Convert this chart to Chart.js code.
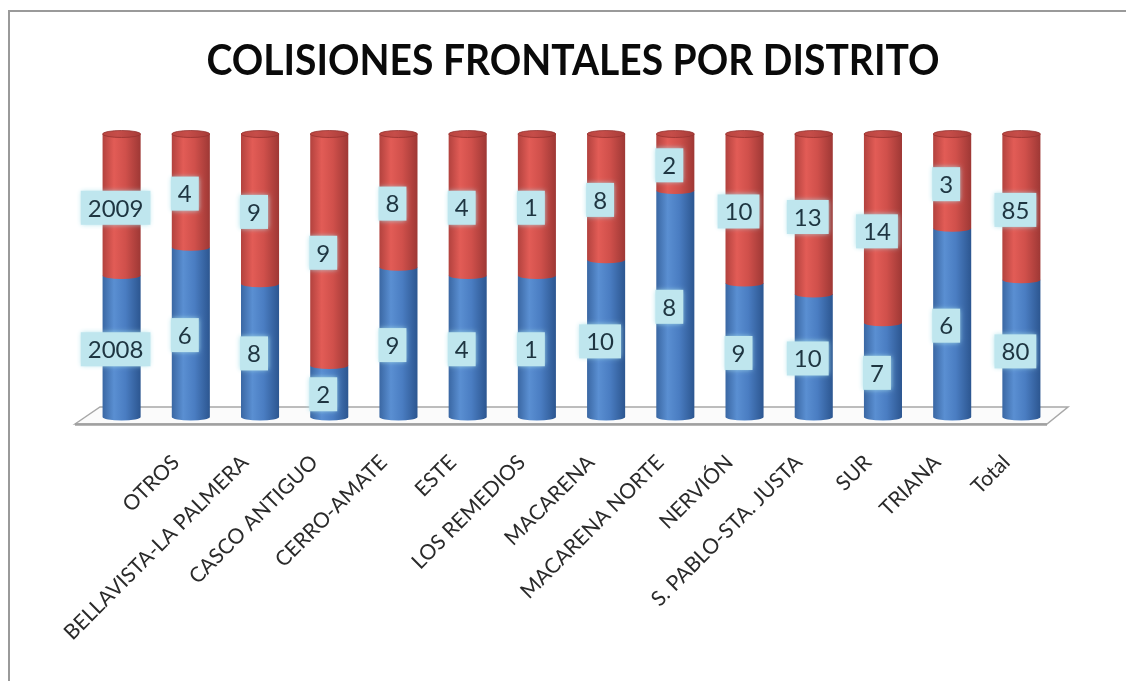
<!DOCTYPE html>
<html>
<head>
<meta charset="utf-8">
<script src="https://cdn.jsdelivr.net/npm/chart.js@4.4.0/dist/chart.umd.min.js"></script>
<style>
  html, body { margin: 0; padding: 0; background: #ffffff; overflow: hidden; }
  #wrap { width: 1126px; height: 681px; position: relative; }
</style>
</head>
<body>
<div id="wrap"><canvas id="c"></canvas></div>
<script>
// Districts (the first column holds the year header row of the source sheet)
const districts = ['', 'OTROS', 'BELLAVISTA-LA PALMERA', 'CASCO ANTIGUO', 'CERRO-AMATE', 'ESTE',
  'LOS REMEDIOS', 'MACARENA', 'MACARENA NORTE', 'NERVIÓN', 'S. PABLO-STA. JUSTA', 'SUR', 'TRIANA', 'Total'];
const values2008 = [2008, 6, 8, 2, 9, 4, 1, 10, 8, 9, 10, 7, 6, 80];
const values2009 = [2009, 4, 9, 9, 8, 4, 1, 8, 2, 10, 13, 14, 3, 85];
const seriesNames = ['2008', '2009'];
const chartTitle = 'COLISIONES FRONTALES POR DISTRITO';

// 100 % stacked shares for each column
const totals = values2008.map((v, i) => v + values2009[i]);
const share2008 = values2008.map((v, i) => v / totals[i] * 100);
const share2009 = values2009.map((v, i) => v / totals[i] * 100);
const rawValues = [values2008, values2009];

const ELL_RY = 3.5;

const palettes = [
  { edgeL: '#3a67a3', mid: '#5a8fd2', body: '#4a7dc2', edgeR: '#2c5690', cap: '#6a9ad6' },
  { edgeL: '#b2423e', mid: '#e25c56', body: '#d0504b', edgeR: '#9e3835', cap: '#c64d49' }
];

function bodyGradient(ctx, cx, rx, p) {
  const g = ctx.createLinearGradient(cx - rx, 0, cx + rx, 0);
  g.addColorStop(0, p.edgeL);
  g.addColorStop(0.3, p.mid);
  g.addColorStop(0.6, p.body);
  g.addColorStop(1, p.edgeR);
  return g;
}

function segmentPath(ctx, cx, rx, ry, yt, yb) {
  ctx.beginPath();
  ctx.moveTo(cx - rx, yt);
  ctx.lineTo(cx - rx, yb);
  ctx.ellipse(cx, yb, rx, ry, 0, Math.PI, 0, true);
  ctx.lineTo(cx + rx, yt);
  ctx.closePath();
}

// Frame around the whole chart
const framePlugin = {
  id: 'frame',
  beforeDraw(chart) {
    const ctx = chart.ctx;
    ctx.save();
    ctx.fillStyle = '#ffffff';
    ctx.fillRect(0, 0, chart.width, chart.height);
    ctx.strokeStyle = '#9a9a9a';
    ctx.lineWidth = 2;
    ctx.strokeRect(9, 11, chart.width + 40, chart.height + 40);
    ctx.restore();
  }
};

// Floor plane under the cylinders
const floorPlugin = {
  id: 'floor',
  beforeDatasetsDraw(chart) {
    const { ctx, chartArea: a } = chart;
    const fy = a.bottom + 7, by = a.bottom - 10;
    ctx.save();
    ctx.beginPath();
    ctx.moveTo(a.left - 12, fy);
    ctx.lineTo(a.left + 13, by);
    ctx.lineTo(a.right + 12, by);
    ctx.lineTo(a.right - 9, fy);
    ctx.closePath();
    ctx.fillStyle = '#fbfbfb';
    ctx.fill();
    ctx.strokeStyle = '#a8a8a8';
    ctx.lineWidth = 1.5;
    ctx.stroke();
    ctx.beginPath();
    ctx.moveTo(a.left - 12, fy + 0.5);
    ctx.lineTo(a.right - 9, fy + 0.5);
    ctx.lineWidth = 2.5;
    ctx.strokeStyle = '#a0a0a0';
    ctx.stroke();
    ctx.restore();
  }
};

// Cylinders built on the bar elements, then the value boxes
const cylinderPlugin = {
  id: 'cylinders',
  afterDatasetsDraw(chart) {
    const ctx = chart.ctx;
    const metas = chart.data.datasets.map((d, i) => chart.getDatasetMeta(i));
    ctx.save();
    const n = chart.data.labels.length;
    for (let j = 0; j < n; j++) {
      let topY = null, topX = 0, topR = 0;
      metas.forEach((meta, di) => {
        const el = meta.data[j];
        const rx = el.width / 2;
        const cx = el.x;
        segmentPath(ctx, cx, rx, ELL_RY, el.y, el.base);
        ctx.fillStyle = bodyGradient(ctx, cx, rx, palettes[di]);
        ctx.fill();
        topY = el.y; topX = cx; topR = rx;
      });
      // top cap of the stack
      const p = palettes[metas.length - 1];
      ctx.beginPath();
      ctx.ellipse(topX, topY, topR, ELL_RY, 0, 0, Math.PI * 2);
      const g = ctx.createLinearGradient(topX - topR, 0, topX + topR, 0);
      g.addColorStop(0, '#b9453f');
      g.addColorStop(0.4, p.cap);
      g.addColorStop(1, '#a73c38');
      ctx.fillStyle = g;
      ctx.fill();
      ctx.strokeStyle = 'rgba(150,50,47,0.8)';
      ctx.lineWidth = 1;
      ctx.stroke();
    }
    // value boxes
    ctx.font = '24px Lato';
    ctx.textAlign = 'center';
    ctx.textBaseline = 'middle';
    metas.forEach((meta, di) => {
      meta.data.forEach((el, j) => {
        const txt = String(rawValues[di][j]);
        const cx = el.x - 6;
        const cy = (el.y + el.base) / 2 + 3;
        const w = ctx.measureText(txt).width + 14;
        const h = 34;
        ctx.save();
        ctx.shadowColor = 'rgba(170,225,235,0.95)';
        ctx.shadowBlur = 5;
        ctx.fillStyle = '#bfe6ee';
        ctx.fillRect(cx - w / 2, cy - h / 2, w, h);
        ctx.restore();
        ctx.fillStyle = '#1e3541';
        ctx.fillText(txt, cx, cy + 1);
      });
    });
    ctx.restore();
  }
};

// Title
const titlePlugin = {
  id: 'bigTitle',
  afterDraw(chart) {
    const ctx = chart.ctx;
    ctx.save();
    ctx.font = 'bold 42px Lato';
    ctx.fillStyle = '#0a0a0a';
    ctx.textAlign = 'center';
    ctx.textBaseline = 'alphabetic';
    const w = ctx.measureText(chartTitle).width;
    ctx.translate(573, 75);
    ctx.scale(733 / w, 1);
    ctx.fillText(chartTitle, 0, 0);
    ctx.restore();
  }
};

new Chart(document.getElementById('c'), {
  type: 'bar',
  data: {
    labels: districts,
    datasets: [
      { label: seriesNames[0], data: share2008, backgroundColor: 'rgba(0,0,0,0)', borderWidth: 0 },
      { label: seriesNames[1], data: share2009, backgroundColor: 'rgba(0,0,0,0)', borderWidth: 0 }
    ]
  },
  options: {
    responsive: true,
    maintainAspectRatio: false,
    animation: false,
    devicePixelRatio: 1,
    layout: { padding: { left: 87, right: 70, top: 134, bottom: 0 } },
    plugins: { legend: { display: false }, tooltip: { enabled: false }, title: { display: false } },
    datasets: { bar: { categoryPercentage: 1, barPercentage: 0.55 } },
    scales: {
      x: {
        stacked: true,
        grid: { display: false, drawTicks: false },
        border: { display: false },
        ticks: {
          autoSkip: false,
          minRotation: 45,
          maxRotation: 45,
          padding: 33,
          labelOffset: -15,
          color: '#2a2a2a',
          font: { family: 'Lato', size: 21 }
        },
        afterFit(s) { s.height = 264; }
      },
      y: {
        stacked: true,
        display: false,
        min: 0,
        max: 100
      }
    }
  },
  plugins: [framePlugin, floorPlugin, cylinderPlugin, titlePlugin]
});
</script>
</body>
</html>
